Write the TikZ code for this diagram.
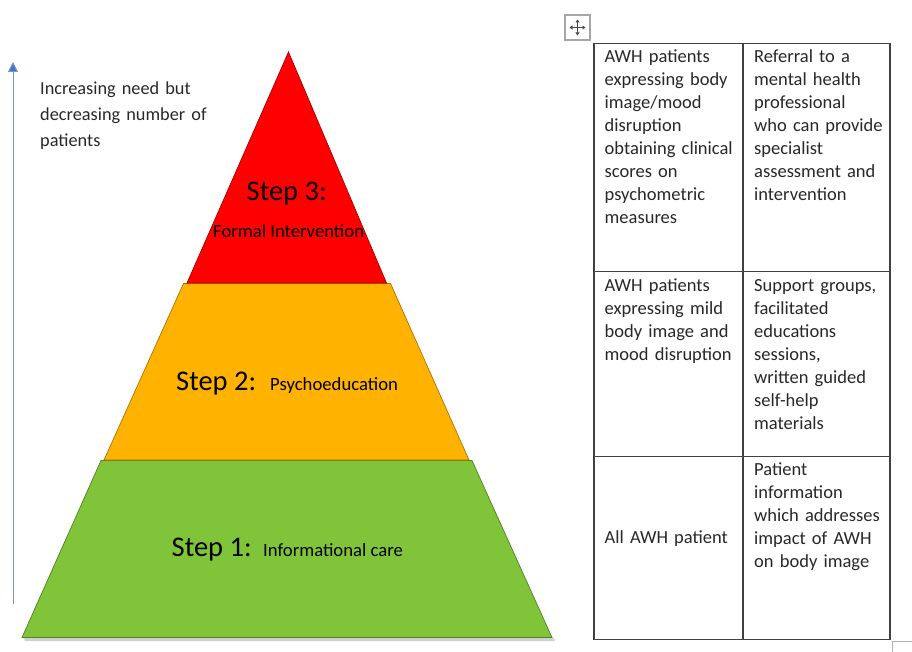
\documentclass[tikz,border=0pt]{standalone}
\usepackage{fontspec}
\setmainfont{Carlito}
\usetikzlibrary{arrows.meta,calc}
\definecolor{stepred}{RGB}{255,0,0}
\definecolor{steporange}{RGB}{255,178,0}
\definecolor{stepgreen}{RGB}{128,196,58}
\definecolor{arrowblue}{RGB}{68,114,196}
\definecolor{txtgray}{RGB}{40,40,40}
\begin{document}
\begin{tikzpicture}[x=1pt,y=-1pt,
  layer/.style={line width=0.7pt, line join=miter},
  celltext/.style={anchor=base west, inner sep=0pt, text width=140pt, align=left,
    text=txtgray, font=\fontsize{18.5}{23}\selectfont},
  steplabel/.style={anchor=base west, inner sep=0pt, font=\fontsize{28.5}{32}\selectfont},
  stepsub/.style={anchor=base west, inner sep=0pt, font=\fontsize{18.7}{22}\selectfont},
  gridline/.style={draw=black!75, line width=1.3pt},
]
\useasboundingbox (0,0) rectangle (912,652);
\fill[white] (0,0) rectangle (912,652);

% faint shadow under the pyramid base
\fill[black!18] (24,638) -- (554,638) -- (555,641) -- (25,641) -- cycle;

% pyramid layers
\draw[layer, fill=stepgreen, draw=stepgreen!65!black]
  (101,460.5) -- (472,460.5) -- (552,637.5) -- (22,637.5) -- cycle;
\draw[layer, fill=steporange, draw=steporange!65!black]
  (183.5,283.5) -- (390.5,283.5) -- (469,460) -- (104,460) -- cycle;
\draw[layer, fill=stepred, draw=stepred!65!black]
  (288.5,52) -- (386.5,283) -- (187,283) -- cycle;

% step labels
\node[steplabel] (s3) at (246.5,200.7) {Step 3:};
\node[stepsub] (s3t) at (213,237) {Formal Intervention};
\node[steplabel] (s2) at (176,390) {Step 2:};
\node[stepsub] (s2t) at (270,390) {Psychoeducation};
\node[steplabel] (s1) at (171.5,556.7) {Step 1:};
\node[stepsub] (s1t) at (263,556.7) {Informational care};

% arrow
\coordinate (arrbot) at (13,604);
\coordinate (arrtop) at (13,62);
\draw[arrowblue!75, line width=1pt, -{Triangle[length=10pt,width=10pt,fill=arrowblue]}] (arrbot) -- (arrtop);
\node[anchor=base west, inner sep=0pt, text width=200pt, align=left, text=txtgray,
  font=\fontsize{18.3}{25.8}\selectfont] (need) at (40,94.5)
  {Increasing need but\\decreasing number of\\patients};

% move icon
\coordinate (mv) at (577.5,27.5);
\draw[fill=white, draw=black!35, line width=1.2pt] (565,15) rectangle (590,40);
\draw[black!70, line width=0.9pt, {Triangle[length=3pt,width=4pt]}-{Triangle[length=3pt,width=4pt]}] ($(mv)+(-8,0)$) -- ($(mv)+(8,0)$);
\draw[black!70, line width=0.9pt, {Triangle[length=3pt,width=4pt]}-{Triangle[length=3pt,width=4pt]}] ($(mv)+(0,-8)$) -- ($(mv)+(0,8)$);

% table
\draw[gridline] (594,43.5) rectangle (890,639.5);
\draw[gridline] (743,43.5) -- (743,639.5);
\draw[gridline] (594,271.5) -- (890,271.5);
\draw[gridline] (594,456.5) -- (890,456.5);

\node[celltext] (c11) at (604.5,62.5)
  {AWH patients\\expressing body\\image/mood\\disruption\\obtaining clinical\\scores on\\psychometric\\measures};
\node[celltext] (c12) at (754,62.5)
  {Referral to a\\mental health\\professional\\who can provide\\specialist\\assessment and\\intervention};
\node[celltext] (c21) at (604.5,291)
  {AWH patients\\expressing mild\\body image and\\mood disruption};
\node[celltext] (c22) at (754,291)
  {Support groups,\\facilitated\\educations\\sessions,\\written guided\\self-help\\materials};
\node[celltext] (c31) at (604.5,543.5) {All AWH patient};
\node[celltext] (c32) at (754,475)
  {Patient\\information\\which addresses\\impact of AWH\\on body image};

% corner fragment
\draw[black!30, line width=1pt] (892,652) -- (892,641) -- (912,641);
\end{tikzpicture}
\end{document}
